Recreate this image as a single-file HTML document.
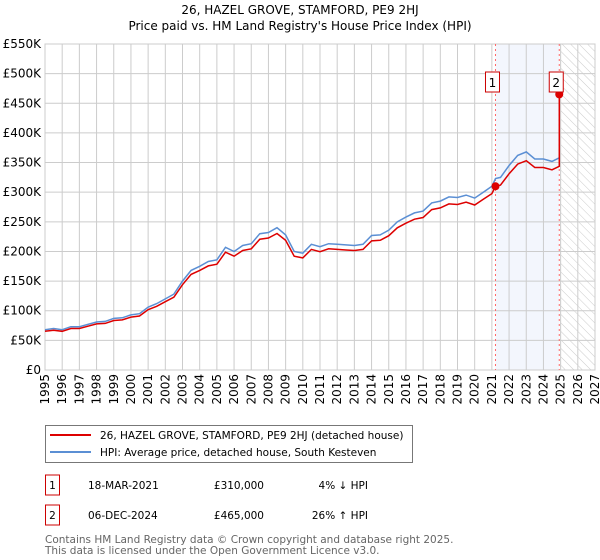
<!DOCTYPE html>
<html><head><meta charset="utf-8">
<style>
body{margin:0;background:#fff;font-family:"DejaVu Sans","Liberation Sans",sans-serif;}
#wrap{position:relative;width:600px;height:560px;overflow:hidden;}
svg text{font-family:"DejaVu Sans","Liberation Sans",sans-serif;}
</style></head><body>
<div id="wrap">
<svg id="chart" width="600" height="560"></svg>
</div>
<script>
const years=[1995,1995.5,1996,1996.5,1997,1997.5,1998,1998.5,1999,1999.5,2000,2000.5,2001,2001.5,2002,2002.5,2003,2003.5,2004,2004.5,2005,2005.5,2006,2006.5,2007,2007.5,2008,2008.5,2009,2009.5,2010,2010.5,2011,2011.5,2012,2012.5,2013,2013.5,2014,2014.5,2015,2015.5,2016,2016.5,2017,2017.5,2018,2018.5,2019,2019.5,2020,2020.5,2021,2021.21,2021.5,2022,2022.5,2023,2023.5,2024,2024.5,2024.92];
const hpi=[68000,70000,68000,73000,73000,77000,81000,82000,87000,88000,93000,95000,106000,112000,120000,128000,150000,168000,175000,183000,186000,207000,200000,210000,213000,230000,232000,240000,228000,200000,197000,212000,208000,213000,212000,211000,210000,212000,227000,228000,236000,250000,258000,265000,268000,282000,285000,292000,291000,295000,290000,300000,310000,323000,325000,345000,362000,368000,356000,356000,352000,358000];
const sales=[{label:"1",year:2021.21,price:310000},{label:"2",year:2024.92,price:465000}];
const yTicks=[0,50000,100000,150000,200000,250000,300000,350000,400000,450000,500000,550000];
const yLabels=["£0","£50K","£100K","£150K","£200K","£250K","£300K","£350K","£400K","£450K","£500K","£550K"];
const xTicks=[1995,1996,1997,1998,1999,2000,2001,2002,2003,2004,2005,2006,2007,2008,2009,2010,2011,2012,2013,2014,2015,2016,2017,2018,2019,2020,2021,2022,2023,2024,2025,2026,2027];

const NS="http://www.w3.org/2000/svg";
const svg=document.getElementById('chart');
const L=45,R=595,T=44,B=370;
const X=y=>L+(y-1995)/(2027-1995)*(R-L);
const Y=v=>B-v/550000*(B-T);
function mk(t,a,p){const e=document.createElementNS(NS,t);for(const k in a)e.setAttribute(k,a[k]);(p||svg).appendChild(e);return e;}

const defs=mk('defs',{});
const pat=mk('pattern',{id:'hatch',width:6,height:6,patternUnits:'userSpaceOnUse',patternTransform:'rotate(-45)'},defs);
mk('line',{x1:0,y1:0,x2:0,y2:6,stroke:'#ccc','stroke-width':1},pat);

let t=mk('text',{x:300,y:14,'text-anchor':'middle','font-size':12,fill:'#000'});t.textContent="26, HAZEL GROVE, STAMFORD, PE9 2HJ";

t=mk('text',{x:300,y:30,'text-anchor':'middle','font-size':12,fill:'#000'});t.textContent="Price paid vs. HM Land Registry's House Price Index (HPI)";


let r=mk('rect',{x:X(sales[0].year),y:T,width:X(sales[1].year)-X(sales[0].year),height:B-T,fill:'#f3f6fd'});

r=mk('rect',{x:X(2025),y:T,width:R-X(2025),height:B-T,fill:'url(#hatch)'});


const grid=mk('g',{stroke:'#ccc','stroke-width':1});

xTicks.forEach(y=>{mk('line',{x1:X(y),x2:X(y),y1:T,y2:B},grid);
 const tx=mk('text',{x:0,y:0,'font-size':12,fill:'#000','text-anchor':'end',transform:`translate(${X(y)+4},${B+4}) rotate(-90)`});tx.textContent=y;
 });
yTicks.forEach((v,i)=>{mk('line',{x1:L,x2:R,y1:Y(v),y2:Y(v)},grid);
 const tx=mk('text',{x:L-4,y:Y(v)+4,'font-size':12,fill:'#000','text-anchor':'end'});tx.textContent=yLabels[i];
 });
r=mk('rect',{x:L,y:T,width:R-L,height:B-T,fill:'none',stroke:'#ccc'});


sales.forEach(s=>{const l=mk('line',{x1:X(s.year),x2:X(s.year),y1:T,y2:B,stroke:'#f66','stroke-width':1,'stroke-dasharray':'2,3'});
 });

function interp(y){for(let i=1;i<years.length;i++){if(years[i]>=y){const f=(y-years[i-1])/(years[i]-years[i-1]);return hpi[i-1]+f*(hpi[i]-hpi[i-1]);}}return hpi[hpi.length-1];}
let d=years.map((y,i)=>(i?'L':'M')+X(y).toFixed(1)+','+Y(hpi[i]).toFixed(1)).join('');
let p=mk('path',{d:d,fill:'none',stroke:'#5b8fd4','stroke-width':1.5});

const f1=sales[0].price/interp(sales[0].year);
let pts=[];
years.forEach((y,i)=>{if(y<=sales[1].year)pts.push([y,hpi[i]*f1]);});
pts.push([sales[1].year,sales[1].price]);
d=pts.map((q,i)=>(i?'L':'M')+X(q[0]).toFixed(1)+','+Y(q[1]).toFixed(1)).join('');
p=mk('path',{d:d,fill:'none',stroke:'#d00','stroke-width':1.5});


sales.forEach(s=>{const c=mk('circle',{cx:X(s.year),cy:Y(s.price),r:4,fill:'#d00'});
 
 const g=mk('g',{});
 mk('rect',{x:X(s.year)-10,y:72,width:14,height:20,fill:'#fff',stroke:'#c00'},g);
 const tx=mk('text',{x:X(s.year)-3,y:87,'font-size':12,'text-anchor':'middle',fill:'#000'},g);tx.textContent=s.label;});

const lg=mk('g',{});
mk('rect',{x:45.5,y:425.5,width:367,height:37,fill:'#fff',stroke:'#777'},lg);
mk('line',{x1:50,x2:91,y1:435,y2:435,stroke:'#d00','stroke-width':2},lg);
mk('line',{x1:50,x2:91,y1:452,y2:452,stroke:'#5b8fd4','stroke-width':2},lg);
t=mk('text',{x:100,y:439,'font-size':10.5,fill:'#000'},lg);t.textContent="26, HAZEL GROVE, STAMFORD, PE9 2HJ (detached house)";

t=mk('text',{x:100,y:456,'font-size':10.5,fill:'#000'},lg);t.textContent="HPI: Average price, detached house, South Kesteven";


const rows=[["1","18-MAR-2021","£310,000","4% ↓ HPI",485],["2","06-DEC-2024","£465,000","26% ↑ HPI",515]];
rows.forEach(rw=>{const g=mk('g',{});
 mk('rect',{x:45.5,y:rw[4]-10,width:14,height:20,fill:'#fff',stroke:'#c00'},g);
 let a=mk('text',{x:52.5,y:rw[4]+4,'font-size':10.5,'text-anchor':'middle'},g);a.textContent=rw[0];
 a=mk('text',{x:88,y:rw[4]+4,'font-size':10.5},g);a.textContent=rw[1];
 a=mk('text',{x:264,y:rw[4]+4,'font-size':10.5,'text-anchor':'end'},g);a.textContent=rw[2];
 a=mk('text',{x:368,y:rw[4]+4,'font-size':10.5,'text-anchor':'end'},g);a.textContent=rw[3];});

t=mk('text',{x:45,y:543,'font-size':10.5,fill:'#666'});t.textContent="Contains HM Land Registry data © Crown copyright and database right 2025.";

t=mk('text',{x:45,y:554,'font-size':10.5,fill:'#666'});t.textContent="This data is licensed under the Open Government Licence v3.0.";

</script>
</body></html>
